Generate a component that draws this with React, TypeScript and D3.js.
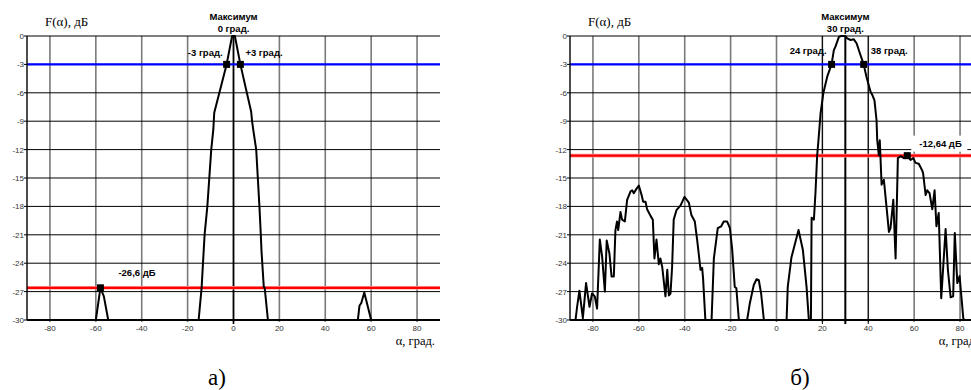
import React from 'react'
import * as d3 from 'd3'

// angle ticks and level ticks shared by both panels
const angleTicks = [-80, -60, -40, -20, 0, 20, 40, 60, 80]
const levelTicks = [0, -3, -6, -9, -12, -15, -18, -21, -24, -27, -30]

// panel a) — pattern with maximum at 0 deg
const alphaA = [-90, -60, -58, -56.5, -54.6, -15.2, -13.9, -12.6, -11.4, -9.7, -8.8, -8.4, -3, -0.6, 0.6, 3, 7.7, 8.1, 8.6, 9.9, 10.6, 11.3, 11.9, 12.2, 13.2, 13.6, 15, 54.2, 54.9, 55.7, 57, 60, 90]
const levelA = [-30, -30, -26.6, -27.5, -30, -30, -26.6, -21, -18, -12, -9.9, -8.1, -3, 0, 0, -3, -8, -9, -9.9, -12, -15, -18, -21, -22.7, -26.5, -26.6, -30, -30, -28.5, -28.2, -27.1, -30, -30]
const markersA = [[-3, -3], [3, -3], [-58, -26.6]]
const sideLobeA = -26.6

// panel б) — pattern with maximum at 30 deg
const alphaB = [
  -90, -87.6, -86.9, -85.9, -84.4, -83, -81.5, -80.4, -79.2, -78.2, -77, -76, -74.8, -74, -72.8, -71.9, -70.9, -70.2, -69.5, -69,
  -68, -67.3, -66.1, -65.1, -63.6, -62.9, -62.2, -61.2, -60, -58.8, -58.1, -57.1, -56.4, -54.9, -53.9, -53.2, -52.3, -51.3, -50.6, -49.8,
  -48.4, -47.6, -46.9, -46.2, -45.5, -44.8, -43.6, -41.8, -40.1, -38.2, -37.1, -35.6, -34.6, -33.1, -32.4, -32, -31, -28.3, -27.3, -25.6,
  -24.1, -23, -21.5, -20.3, -19.3, -18.2, -17.5, -16.4, -12.8, -11.6, -9.9, -8.7, -7.7, -6.7, -5.5, 4.4, 4.9, 6.5, 9.6, 11.5,
  13.1, 14.1, 15, 15.3, 16.3, 17, 17.7, 18.3, 19.2, 20.4, 22.1, 24, 25, 25.7, 27.2, 28.2, 30, 30.8, 32.3, 33.7,
  34.9, 36.3, 38, 39.2, 40.2, 41, 41.7, 42.7, 43.6, 43.9, 44.6, 45, 45.3, 45.8, 46.8, 49, 49.7, 50.9, 51.9, 52.9,
  54.1, 55.5, 57, 58.4, 59.6, 60.6, 62, 63.5, 63.9, 65, 65.7, 66.7, 67.9, 68.9, 69.7, 70.7, 71.8, 73.7, 74.7, 75.9,
  77, 77.7, 78.8, 79.8, 81.4, 81.8, 90
]
const levelB = [
  -30, -30, -28.6, -26.9, -29.8, -26.1, -28.6, -27.2, -27.5, -28.8, -21.5, -23.3, -27, -21.6, -23, -25.4, -25.4, -20.5, -19.6, -20.5,
  -18.6, -19.4, -19.6, -17.3, -16.4, -16.3, -16.6, -16.2, -15.8, -16.8, -17.5, -17.5, -18.3, -19, -19.4, -23.5, -21.5, -24.1, -23.5, -24.4,
  -27.5, -24.7, -27.4, -27.2, -24.4, -19.4, -18.4, -17.9, -17, -17.6, -18.9, -19.6, -21.5, -24.7, -24.5, -25.6, -30, -30, -23.5, -20.3,
  -20.1, -19.6, -19.6, -20.3, -22.6, -26.5, -26.65, -30, -30, -28.2, -26.3, -25.7, -25.8, -27.2, -30, -30, -26.5, -23.4, -20.5, -22.6,
  -26.5, -30, -30, -19.2, -19.4, -16.5, -12.7, -11, -8.2, -6.05, -4.3, -3, -1.5, -1.13, -0.1, 0, 0, -0.25, -0.42, -0.35,
  -0.77, -1.8, -3, -4.3, -5.2, -5.9, -6.2, -6.8, -8.9, -11, -12.6, -11, -12.7, -15.7, -15.2, -20.7, -20.3, -17.3, -23.5, -12.9,
  -12.7, -12.9, -12.64, -13.1, -12.9, -13.4, -13.5, -14.2, -14.5, -16.8, -16.3, -16.6, -18.3, -16.3, -20.1, -18.7, -27.7, -20.4, -24.7, -27.6,
  -27.5, -20.8, -26.1, -25.35, -29.8, -30, -30
]
const markersB = [[24, -3], [38, -3], [57, -12.64]]
const sideLobeB = -12.64

const sans = '"Liberation Sans", Arial, sans-serif'
const serif = '"Liberation Serif", "Times New Roman", serif'

function Panel({ left, alpha, level, markers, sideLobe, peak, guides, texts, caption, captionX }) {
  const x = d3.scaleLinear().domain([-90, 90]).range([left, left + 413])
  const y = d3.scaleLinear().domain([0, -30]).range([36, 320])
  const pts = alpha.map((a, i) => [a, level[i]])
  const line = d3
    .line()
    .x(d => x(d[0]))
    .y(d => y(d[1]))
  const x0 = x(-90)
  const x1 = x(90)

  return (
    <g>
      {/* vertical grid */}
      {angleTicks.map(t => (
        <line key={'v' + t} x1={x(t)} x2={x(t)} y1={y(0)} y2={y(-30) + 2} stroke="#7a7a7a" strokeWidth={1.6} />
      ))}
      {/* horizontal grid */}
      {levelTicks.slice(0, -1).map(t => (
        <line key={'h' + t} x1={x0} x2={x1} y1={y(t)} y2={y(t)} stroke="#000" strokeWidth={1} />
      ))}
      {/* guides at the main lobe */}
      {guides.map(g => (
        <line key={'g' + g.a} x1={x(g.a)} x2={x(g.a)} y1={y(0)} y2={y(-30) + 4} stroke="#000" strokeWidth={g.w} />
      ))}
      {/* -3 dB line */}
      <line x1={x0} x2={x1} y1={y(-3)} y2={y(-3)} stroke="#0000ff" strokeWidth={2.2} />
      {/* side lobe line */}
      <line x1={x0} x2={x1} y1={y(sideLobe)} y2={y(sideLobe)} stroke="#ff9a9a" strokeWidth={3.6} />
      <line x1={x0} x2={x1} y1={y(sideLobe)} y2={y(sideLobe)} stroke="#ff0000" strokeWidth={2.2} />
      {/* axes */}
      <line x1={x0} x2={x0} y1={y(0)} y2={y(-30)} stroke="#000" strokeWidth={1.4} />
      <line x1={x0} x2={x1} y1={y(-30)} y2={y(-30)} stroke="#000" strokeWidth={2.2} />
      {levelTicks.map(t => (
        <g key={'yl' + t}>
          <line x1={x0 - 3} x2={x0} y1={y(t)} y2={y(t)} stroke="#000" strokeWidth={1} />
          <text x={x0 - 3} y={y(t) + 3} textAnchor="end" fontSize={8} fontFamily={sans} fill="#333">
            {t}
          </text>
        </g>
      ))}
      {angleTicks.map(t => (
        <text key={'xl' + t} x={x(t)} y={y(-30) + 11} textAnchor="middle" fontSize={8} fontFamily={sans} fill="#333">
          {t}
        </text>
      ))}
      {/* pattern */}
      <path d={line(pts)} fill="none" stroke="#000" strokeWidth={2} strokeLinejoin="round" />
      {markers.map((m, i) => (
        <rect key={'m' + i} x={x(m[0]) - 3.5} y={y(m[1]) - 3.5} width={7} height={7} fill="#000" />
      ))}
      {/* annotations */}
      <rect x={x(peak) - 22} y={23} width={44} height={12} fill="#fff" opacity={0.6} />
      <text x={x(peak)} y={20} textAnchor="middle" fontSize={9.5} fontWeight="bold" fontFamily={sans}>
        Максимум
      </text>
      <text x={x(peak)} y={32} textAnchor="middle" fontSize={9.5} fontWeight="bold" fontFamily={sans}>
        {peak} град.
      </text>
      {texts.map((t, i) => (
        <g key={'t' + i}>
          {t.box && <rect x={x(t.a) + t.dx - 8} y={y(t.l) + t.dy - 11} width={56} height={16} fill="#fff" />}
          <text
            x={x(t.a) + t.dx}
            y={y(t.l) + t.dy}
            textAnchor={t.anchor}
            fontSize={9.5}
            fontWeight="bold"
            fontFamily={sans}
          >
            {t.s}
          </text>
        </g>
      ))}
      <text x={x0 + 18} y={26} fontSize={13} fontFamily={serif}>
        F(α), дБ
      </text>
      <text x={x1 - 5} y={345} textAnchor="end" fontSize={12.5} fontFamily={serif}>
        α, град.
      </text>
      <text x={captionX} y={385} textAnchor="middle" fontSize={23} fontFamily={serif}>
        {caption}
      </text>
    </g>
  )
}

export default function App() {
  return (
    <svg width={971} height={390} style={{ position: 'absolute', left: 0, top: 0, background: '#fff' }}>
      <rect width={971} height={390} fill="#fff" />
      <Panel
        left={27}
        alpha={alphaA}
        level={levelA}
        markers={markersA}
        sideLobe={sideLobeA}
        peak={0}
        guides={[{ a: 0, w: 1.6 }]}
        texts={[
          { a: -3, l: -3, dx: -4, dy: -8.5, anchor: 'end', s: '-3 град.' },
          { a: 3, l: -3, dx: 5, dy: -8.5, anchor: 'start', s: '+3 град.' },
          { a: -58, l: -26.6, dx: 18, dy: -12, anchor: 'start', s: '-26,6 дБ' }
        ]}
        caption="а)"
        captionX={217}
      />
      <Panel
        left={570}
        alpha={alphaB}
        level={levelB}
        markers={markersB}
        sideLobe={sideLobeB}
        peak={30}
        guides={[
          { a: 20, w: 1 },
          { a: 40, w: 1 },
          { a: 30, w: 2 }
        ]}
        texts={[
          { a: 24, l: -3, dx: -5, dy: -10, anchor: 'end', s: '24 град.' },
          { a: 38, l: -3, dx: 7, dy: -10, anchor: 'start', s: '38 град.' },
          { a: 57, l: -12.64, dx: 12, dy: -9, anchor: 'start', s: '-12,64 дБ', box: true }
        ]}
        caption="б)"
        captionX={800}
      />
    </svg>
  )
}
